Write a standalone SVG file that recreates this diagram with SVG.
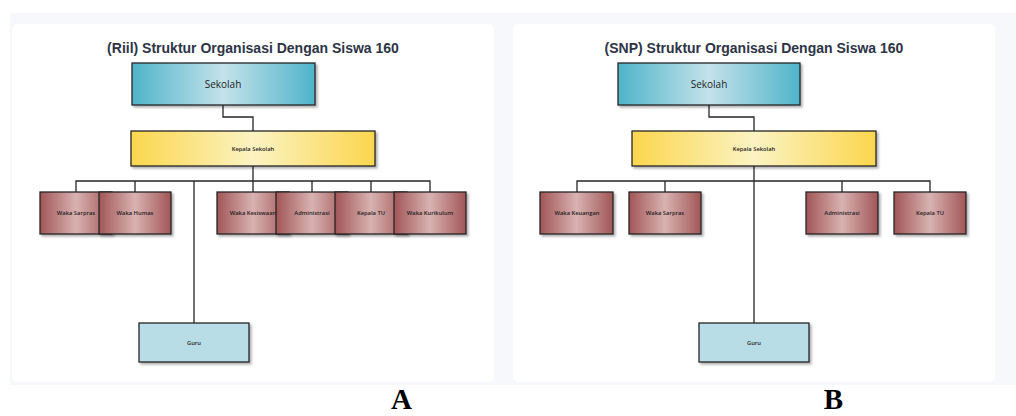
<svg xmlns="http://www.w3.org/2000/svg" width="1016" height="416" viewBox="0 0 1016 416">
  <style>
    .title { font-family: "Liberation Sans", Arial, sans-serif; font-weight: bold; font-size: 14px; fill: #2d3446; text-anchor: middle; }
    .box { stroke: #262626; stroke-width: 1.3; filter: url(#shadow); }
    .lbl { font-family: "Open Sans", "Noto Sans", sans-serif; fill: #1e1e1e; text-anchor: middle; dominant-baseline: central; }
    .big { font-size: 10px; }
    .sm { font-size: 5.8px; font-weight: 600; }
    .wire { fill: none; stroke: #262626; stroke-width: 1.3; }
    .tag { font-family: "Liberation Serif", "Times New Roman", serif; font-weight: bold; font-size: 29px; fill: #000; text-anchor: middle; }
  </style>
  <defs>
    <linearGradient id="gTeal" x1="0" y1="0" x2="1" y2="0">
      <stop offset="0" stop-color="#4fb4ca"/>
      <stop offset="0.5" stop-color="#c4e2ea"/>
      <stop offset="1" stop-color="#4fb4ca"/>
    </linearGradient>
    <linearGradient id="gGold" x1="0" y1="0" x2="1" y2="0">
      <stop offset="0" stop-color="#fbd64e"/>
      <stop offset="0.5" stop-color="#fbf3c2"/>
      <stop offset="1" stop-color="#fbd64e"/>
    </linearGradient>
    <linearGradient id="gRed" x1="0" y1="0" x2="1" y2="0">
      <stop offset="0" stop-color="#a15656"/>
      <stop offset="0.5" stop-color="#d9b2b2"/>
      <stop offset="1" stop-color="#a15656"/>
    </linearGradient>
    <filter id="shadow" x="-10%" y="-10%" width="125%" height="140%">
      <feDropShadow dx="2" dy="2" stdDeviation="1" flood-color="#000" flood-opacity="0.3"/>
    </filter>
  </defs>

  <!-- page background and cards -->
  <rect x="0" y="0" width="1016" height="416" fill="#ffffff"/>
  <rect x="10" y="13" width="1006" height="372" fill="#f7f8fc"/>
  <rect x="12" y="24" width="482" height="358" rx="5" fill="#ffffff"/>
  <rect x="513" y="24" width="482" height="358" rx="5" fill="#ffffff"/>

  <!-- chart A -->
  <text class="title" x="253" y="53">(Riil) Struktur Organisasi Dengan Siswa 160</text>

  <g id="connectors-a">
    <path class="wire" d="M223 105 V117 H253 V131"/>
    <path class="wire" d="M253 166 V181"/>
    <path class="wire" d="M76 192 V181 H430 V192"/>
    <path class="wire" d="M135 181 V192 M253 181 V192 M312 181 V192 M371 181 V192"/>
    <path class="wire" d="M194 181 V323"/>
  </g>

  <g id="a-sekolah">
    <rect class="box" x="132" y="63" width="183" height="42" fill="url(#gTeal)"/>
    <text class="lbl big" x="223" y="84">Sekolah</text>
  </g>
  <g id="a-kepala-sekolah">
    <rect class="box" x="131" y="131" width="244" height="35" fill="url(#gGold)"/>
    <text class="lbl sm" x="253" y="148.5">Kepala Sekolah</text>
  </g>
  <g id="a-waka-sarpras">
    <rect class="box" x="40" y="192" width="72" height="42" fill="url(#gRed)"/>
    <text class="lbl sm" x="76" y="213">Waka Sarpras</text>
  </g>
  <g id="a-waka-humas">
    <rect class="box" x="99" y="192" width="72" height="42" fill="url(#gRed)"/>
    <text class="lbl sm" x="135" y="213">Waka Humas</text>
  </g>
  <g id="a-waka-kesiswaan">
    <rect class="box" x="217" y="192" width="72" height="42" fill="url(#gRed)"/>
    <text class="lbl sm" x="253" y="213">Waka Kesiswaan</text>
  </g>
  <g id="a-administrasi">
    <rect class="box" x="276" y="192" width="72" height="42" fill="url(#gRed)"/>
    <text class="lbl sm" x="312" y="213">Administrasi</text>
  </g>
  <g id="a-kepala-tu">
    <rect class="box" x="335" y="192" width="72" height="42" fill="url(#gRed)"/>
    <text class="lbl sm" x="371" y="213">Kepala TU</text>
  </g>
  <g id="a-waka-kurikulum">
    <rect class="box" x="394" y="192" width="72" height="42" fill="url(#gRed)"/>
    <text class="lbl sm" x="430" y="213">Waka Kurikulum</text>
  </g>
  <g id="a-guru">
    <rect class="box" x="139" y="323" width="110" height="39" fill="#b8dde6"/>
    <text class="lbl sm" x="194" y="342.5">Guru</text>
  </g>

  <!-- chart B -->
  <text class="title" x="754" y="53">(SNP) Struktur Organisasi Dengan Siswa 160</text>

  <g id="connectors-b">
    <path class="wire" d="M709 105 V117 H754 V131"/>
    <path class="wire" d="M754 166 V323"/>
    <path class="wire" d="M577 192 V181 H930 V192"/>
    <path class="wire" d="M665 181 V192 M842 181 V192"/>
  </g>

  <g id="b-sekolah">
    <rect class="box" x="618" y="63" width="182" height="42" fill="url(#gTeal)"/>
    <text class="lbl big" x="709" y="84">Sekolah</text>
  </g>
  <g id="b-kepala-sekolah">
    <rect class="box" x="632" y="131" width="244" height="35" fill="url(#gGold)"/>
    <text class="lbl sm" x="754" y="148.5">Kepala Sekolah</text>
  </g>
  <g id="b-waka-keuangan">
    <rect class="box" x="540" y="192" width="73" height="42" fill="url(#gRed)"/>
    <text class="lbl sm" x="577" y="213">Waka Keuangan</text>
  </g>
  <g id="b-waka-sarpras">
    <rect class="box" x="629" y="192" width="72" height="42" fill="url(#gRed)"/>
    <text class="lbl sm" x="665" y="213">Waka Sarpras</text>
  </g>
  <g id="b-administrasi">
    <rect class="box" x="806" y="192" width="72" height="42" fill="url(#gRed)"/>
    <text class="lbl sm" x="842" y="213">Administrasi</text>
  </g>
  <g id="b-kepala-tu">
    <rect class="box" x="894" y="192" width="72" height="42" fill="url(#gRed)"/>
    <text class="lbl sm" x="930" y="213">Kepala TU</text>
  </g>
  <g id="b-guru">
    <rect class="box" x="699" y="323" width="110" height="39" fill="#b8dde6"/>
    <text class="lbl sm" x="754" y="342.5">Guru</text>
  </g>

  <!-- panel captions -->
  <text class="tag" x="401.5" y="409">A</text>
  <text class="tag" x="833.5" y="409">B</text>
</svg>
